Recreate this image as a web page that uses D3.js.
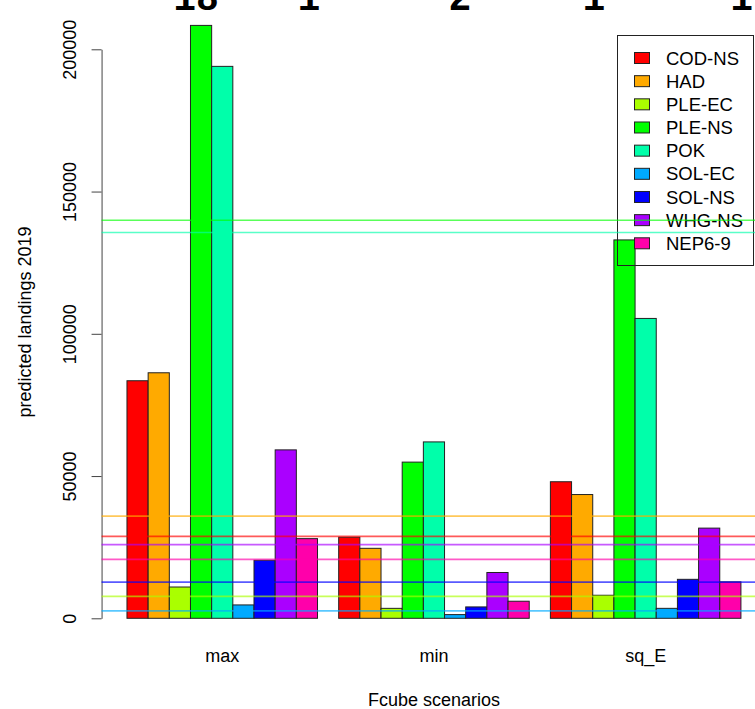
<!DOCTYPE html>
<html>
<head>
<meta charset="utf-8">
<script src="https://cdn.jsdelivr.net/npm/d3@7"></script>
<style>
  body { margin: 0; background: #fff; }
  svg { display: block; }
</style>
</head>
<body>
<div id="chart"></div>
<script>
// data
var scenarios = ["max", "min", "sq_E"];
var stocks = ["COD-NS", "HAD", "PLE-EC", "PLE-NS", "POK", "SOL-EC", "SOL-NS", "WHG-NS", "NEP6-9"];
var stockColors = ["#FF0000", "#FFAA00", "#AAFF00", "#00FF00", "#00FFAA", "#00AAFF", "#0000FF", "#AA00FF", "#FF00AA"];

// predicted landings per stock, one value per scenario (max, min, sq_E)
var codNS = [83500, 28500, 48000];
var had = [86300, 24600, 43500];
var pleEC = [11000, 3500, 8100];
var pleNS = [208400, 54900, 133000];
var pok = [194000, 62000, 105400];
var solEC = [4700, 1300, 3500];
var solNS = [20400, 4000, 13700];
var whgNS = [59200, 16100, 31700];
var nep69 = [28000, 6000, 12800];

// horizontal reference levels, one per stock
var refLevels = [28800, 35900, 7700, 139900, 135600, 2600, 12700, 25900, 20700];

var yTicks = [0, 50000, 100000, 150000, 200000];
var topLabels = ["18", "1", "2", "1", "11"];

var width = 755;
var height = 709;
var seriesValues = [codNS, had, pleEC, pleNS, pok, solEC, solNS, whgNS, nep69];

var rows = [];
scenarios.forEach(function(s, i) {
    stocks.forEach(function(k, j) {
        rows.push({ scenario: s, stock: k, value: seriesValues[j][i] });
    });
});

var svg = d3.select("#chart")
            .append("svg")
            .attr("width", width)
            .attr("height", height)
            .style("font-family", "'Liberation Sans', Arial, sans-serif");

// x in bar units, R barplot style (1 unit = 1 bar)
var ux = d3.scaleLinear().domain([0, 31]).range([105.8, 762.1]);
var plotLeft = ux(-0.2);
var plotRight = ux(31.2);

var x0 = d3.scaleBand()
           .domain(scenarios)
           .range([ux(0), ux(31)])
           .paddingInner(0.1)
           .paddingOuter(0.1);

var x1 = d3.scaleBand()
           .domain(stocks)
           .range([0, x0.bandwidth()]);

var y = d3.scaleLinear()
          .domain([0, 200000])
          .range([618.3, 49.3]);

var color = d3.scaleOrdinal().domain(stocks).range(stockColors);

// top numbers, clipped by the upper edge (as in the source image)
var topX = [196, 309, 460, 594, 753];
svg.selectAll(".toplab")
    .data(topLabels)
    .enter()
    .append("text")
    .attr("class", "toplab")
    .attr("x", (d, i) => topX[i])
    .attr("y", 10)
    .attr("text-anchor", "middle")
    .style("font-family", "'Liberation Mono', 'Courier New', monospace")
    .style("font-weight", "bold")
    .style("font-size", "38px")
    .text(d => d);

// bars
svg.append("g")
    .selectAll("rect")
    .data(rows)
    .enter()
    .append("rect")
    .attr("x", d => x0(d.scenario) + x1(d.stock))
    .attr("y", d => y(d.value))
    .attr("width", x1.bandwidth())
    .attr("height", d => y(0) - y(d.value))
    .attr("fill", d => color(d.stock))
    .attr("stroke", "#222")
    .attr("stroke-width", 1);

// y axis
var yAxis = d3.axisLeft(y)
              .tickValues(yTicks)
              .tickFormat(d3.format("d"))
              .tickSize(10)
              .tickSizeOuter(0);

var gy = svg.append("g")
            .attr("transform", "translate(" + plotLeft + ",0)")
            .call(yAxis);
gy.select(".domain").attr("stroke", "#444");
gy.selectAll(".tick line").attr("stroke", "#444");
gy.selectAll(".tick text")
    .attr("x", 0)
    .attr("dy", 0)
    .attr("transform", "translate(-26,0) rotate(-90)")
    .attr("text-anchor", "middle")
    .attr("fill", "#000")
    .style("font-size", "18px")
    .style("font-family", "'Liberation Sans', Arial, sans-serif");

// scenario labels under groups
svg.selectAll(".xlab")
    .data(scenarios)
    .enter()
    .append("text")
    .attr("class", "xlab")
    .attr("x", d => x0(d) + x0.bandwidth() / 2)
    .attr("y", 662)
    .attr("text-anchor", "middle")
    .style("font-size", "18px")
    .text(d => d);

// axis titles
svg.append("text")
    .attr("x", (plotLeft + plotRight) / 2)
    .attr("y", 706)
    .attr("text-anchor", "middle")
    .style("font-size", "18px")
    .text("Fcube scenarios");

svg.append("text")
    .attr("transform", "translate(31,322) rotate(-90)")
    .attr("text-anchor", "middle")
    .style("font-size", "18px")
    .text("predicted landings 2019");

// legend (no fill, bars show through)
var legend = svg.append("g");
legend.append("rect")
    .attr("x", 617.5)
    .attr("y", 35.5)
    .attr("width", 136)
    .attr("height", 230)
    .attr("fill", "none")
    .attr("stroke", "#222")
    .attr("stroke-width", 1);

var legRow = d3.scalePoint().domain(stocks).range([58, 243.3]);
var items = legend.selectAll(".item")
    .data(stocks)
    .enter()
    .append("g")
    .attr("transform", d => "translate(0," + legRow(d) + ")");
items.append("rect")
    .attr("x", 634.5)
    .attr("y", -5.5)
    .attr("width", 15)
    .attr("height", 11)
    .attr("fill", d => color(d))
    .attr("stroke", "#222");
items.append("text")
    .attr("x", 666)
    .attr("y", 0)
    .attr("dy", "0.36em")
    .style("font-size", "18.5px")
    .text(d => d);

// reference lines across the plot
svg.append("g")
    .selectAll("line")
    .data(refLevels)
    .enter()
    .append("line")
    .attr("x1", plotLeft)
    .attr("x2", plotRight)
    .attr("y1", d => y(d))
    .attr("y2", d => y(d))
    .attr("stroke", (d, i) => stockColors[i])
    .attr("stroke-opacity", 0.65)
    .attr("stroke-width", 1.6);
</script>
</body>
</html>
